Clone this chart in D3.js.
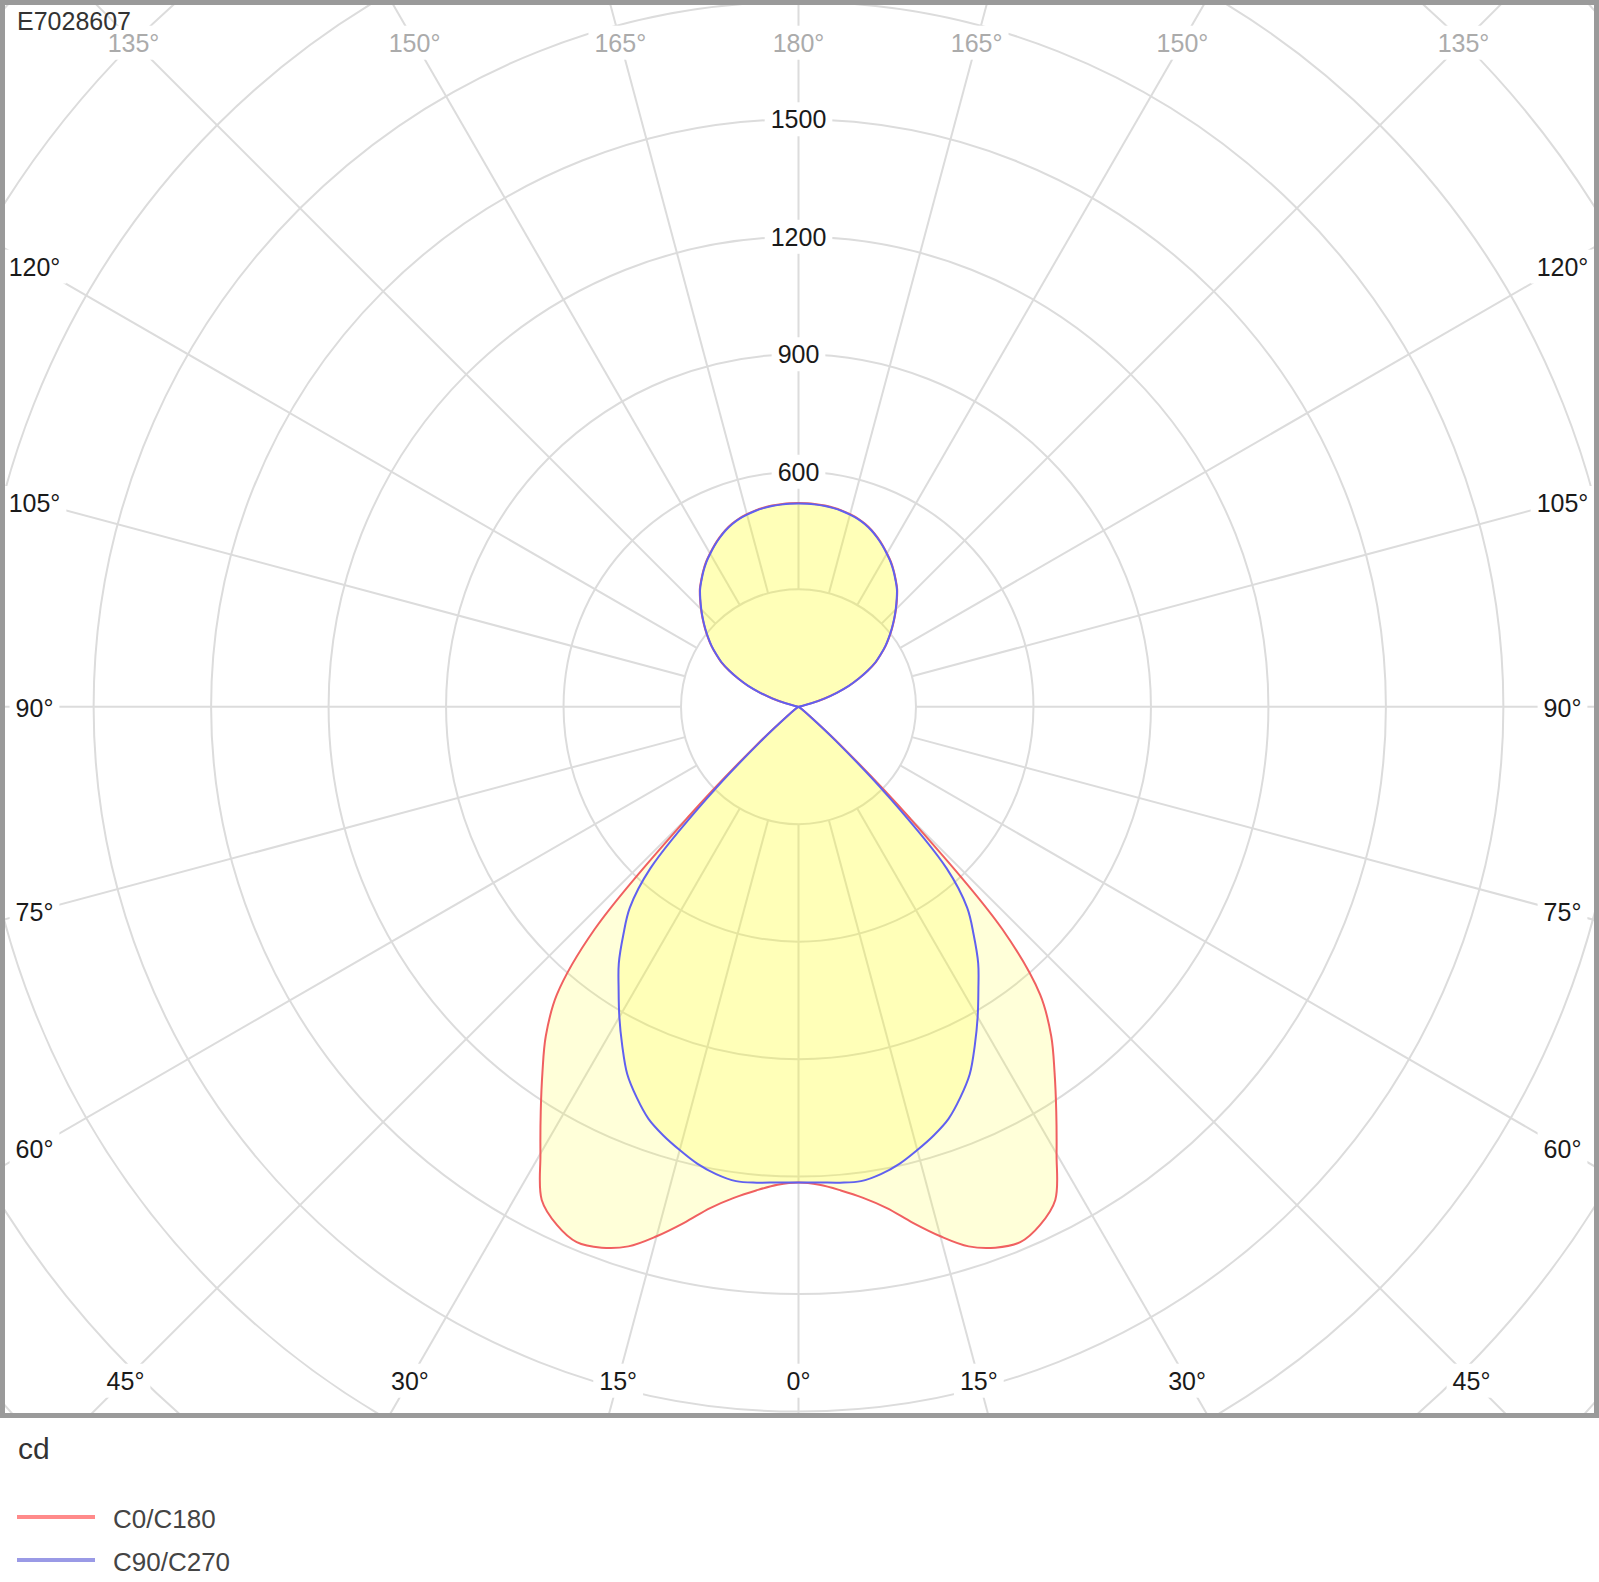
<!DOCTYPE html>
<html>
<head>
<meta charset="utf-8">
<script src="https://cdn.jsdelivr.net/npm/d3@7/dist/d3.min.js"></script>
<style>
  html, body { margin: 0; padding: 0; background: #fff; }
  svg { display: block; }
  text { font-family: "Liberation Sans", Arial, sans-serif; }
</style>
</head>
<body>
<svg id="chart" width="1599" height="1582"></svg>
<script>
// ---------------- DATA ----------------
const title = "E7028607";
const unitLabel = "cd";
// gamma angles (degrees from nadir)
const gammaDeg = [0,2.5,5,7.5,10,12.5,15,17.5,20,22.5,25,27.5,30,32.5,35,37.5,40,42.5,45,47.5,50,52.5,55,57.5,60,62.5,65,67.5,70,72.5,75,77.5,80,82.5,85,87.5,90,92.5,95,97.5,100,102.5,105,107.5,110,112.5,115,117.5,120,122.5,125,127.5,130,132.5,135,137.5,140,142.5,145,147.5,150,152.5,155,157.5,160,162.5,165,167.5,170,172.5,175,177.5,180];
// C0/C180 intensities (cd)
const c0c180 = [1215,1222,1240,1265,1300,1350,1400,1445,1470,1480,1460,1420,1318,1225,1140,1060,960,770,400,150,40,12,4,2,1,0,0,0,0,0,0,0,0,0,0,0,0,0,0,0,1,10,35,70,105,140,170,200,228,250,272,292,312,332,352,372,392,408,424,439,452,465,477,488,497,504,509,513,516,518,519,520,520];
// C90/C270 intensities (cd)
const c90c270 = [1215,1216,1220,1222,1212,1195,1172,1148,1120,1080,1035,975,915,855,800,735,670,560,330,130,35,10,3,1,0,0,0,0,0,0,0,0,0,0,0,0,0,0,0,0,1,9,34,69,104,139,169,199,227,249,271,291,311,331,351,371,391,407,423,438,451,464,476,487,496,503,508,512,515,517,518,519,519];
const seriesNames = ["C0/C180", "C90/C270"];
const seriesColors = ["#f06060", "#6060f0"];
const legendColors = ["#ff8a8a", "#9a9ae6"];
const ringValues = [300,600,900,1200,1500,1800,2100,2400,2700,3000,3300];
const ringLabels = [600,900,1200,1500];
const angleTicks = [0,15,30,45,60,75,90,105,120,135,150,165,180];

// ---------------- LAYOUT ----------------
const svg = d3.select("#chart");
const cx = 798.5, cy = 706.7;
const frame = {x: 2.5, y: 2.5, w: 1594, h: 1413};
const r = d3.scaleLinear().domain([0, 1500]).range([0, 587.4]);
const gridColor = "#dcdcdc";

const defs = svg.append("defs");
defs.append("clipPath").attr("id", "plotClip")
  .append("rect").attr("x", 5).attr("y", 5).attr("width", 1589).attr("height", 1408);

const plot = svg.append("g").attr("clip-path", "url(#plotClip)");
const g = plot.append("g").attr("transform", `translate(${cx},${cy})`);

// rings
g.selectAll("circle.ring").data(ringValues).join("circle")
  .attr("class", "ring")
  .attr("r", d => r(d))
  .attr("fill", "none")
  .attr("stroke", gridColor)
  .attr("stroke-width", 2);

// radial lines (start at first ring)
const rad = a => a * Math.PI / 180;
const spokes = [];
angleTicks.forEach(a => {
  [1, -1].forEach(s => {
    if ((a === 0 || a === 180) && s === -1) return;
    spokes.push({a, s});
  });
});
g.selectAll("line.spoke").data(spokes).join("line")
  .attr("class", "spoke")
  .attr("x1", d => d.s * Math.sin(rad(d.a)) * r(ringValues[0]))
  .attr("y1", d => Math.cos(rad(d.a)) * r(ringValues[0]))
  .attr("x2", d => d.s * Math.sin(rad(d.a)) * r(6000))
  .attr("y2", d => Math.cos(rad(d.a)) * r(6000))
  .attr("stroke", gridColor)
  .attr("stroke-width", 2);

// curves
function curvePoints(vals) {
  const right = gammaDeg.map((gd, i) => [Math.PI - rad(gd), r(vals[i])]);
  const left = gammaDeg.slice(1, -1).map((gd, i) => [Math.PI + rad(gd), r(vals[i + 1])]).reverse();
  return right.concat(left);
}
const radial = d3.lineRadial().angle(d => d[0]).radius(d => d[1])
  .curve(d3.curveCatmullRomClosed.alpha(0.5));
const series = [c0c180, c90c270];
g.selectAll("path.fill").data(series).join("path")
  .attr("class", "fill")
  .attr("d", d => radial(curvePoints(d)))
  .attr("fill", "#ffff00")
  .attr("fill-opacity", 0.15)
  .attr("stroke", "none");
g.selectAll("path.line").data(series).join("path")
  .attr("class", "line")
  .attr("d", d => radial(curvePoints(d)))
  .attr("fill", "none")
  .attr("stroke", (d, i) => seriesColors[i])
  .attr("stroke-width", 2)
  .attr("stroke-linejoin", "round");

// label helper with white background
function addLabel(parent, x, y, txt, color, size) {
  const grp = parent.append("g");
  const t = grp.append("text")
    .attr("x", x).attr("y", y)
    .attr("text-anchor", "middle")
    .attr("dominant-baseline", "central")
    .attr("font-size", size)
    .attr("fill", color)
    .text(txt);
  const bb = t.node().getBBox();
  grp.insert("rect", "text")
    .attr("x", bb.x - 6).attr("y", bb.y - 3)
    .attr("width", bb.width + 12).attr("height", bb.height + 6)
    .attr("fill", "#fff");
}

// ring labels (at 180° direction)
const labelLayer = plot.append("g");
ringLabels.forEach(v => addLabel(labelLayer, cx, cy - r(v), String(v), "#1a1a1a", 25));

// angle labels on rectangle
const halfW = 764, halfTop = 665, halfBot = 673;
spokes.forEach(({a, s}) => {
  const dx = s * Math.sin(rad(a)), dy = Math.cos(rad(a));
  const c = [];
  if (Math.abs(dx) > 1e-9) c.push(halfW / Math.abs(dx));
  if (dy > 1e-9) c.push(halfBot / dy);
  if (dy < -1e-9) c.push(halfTop / -dy);
  const t = Math.min(...c);
  const color = a >= 135 ? "#ababab" : "#1a1a1a";
  addLabel(labelLayer, cx + t * dx, cy + t * dy + 1, a + "°", color, 25);
});

// title
svg.append("text").attr("x", 17).attr("y", 30)
  .attr("font-size", 25).attr("fill", "#333").text(title);

// frame
svg.append("rect")
  .attr("x", frame.x).attr("y", frame.y).attr("width", frame.w).attr("height", frame.h)
  .attr("fill", "none").attr("stroke", "#9a9a9a").attr("stroke-width", 5);

// unit
svg.append("text").attr("x", 18).attr("y", 1459)
  .attr("font-size", 30).attr("fill", "#333").text(unitLabel);

// legend
const legend = svg.append("g");
const legendY = [1517, 1560];
seriesNames.forEach((name, i) => {
  legend.append("line")
    .attr("x1", 17).attr("x2", 95)
    .attr("y1", legendY[i]).attr("y2", legendY[i])
    .attr("stroke", legendColors[i]).attr("stroke-width", 4);
  legend.append("text")
    .attr("x", 113).attr("y", legendY[i] + 2)
    .attr("dominant-baseline", "central")
    .attr("font-size", 26).attr("fill", "#444")
    .text(name);
});
</script>
</body>
</html>
